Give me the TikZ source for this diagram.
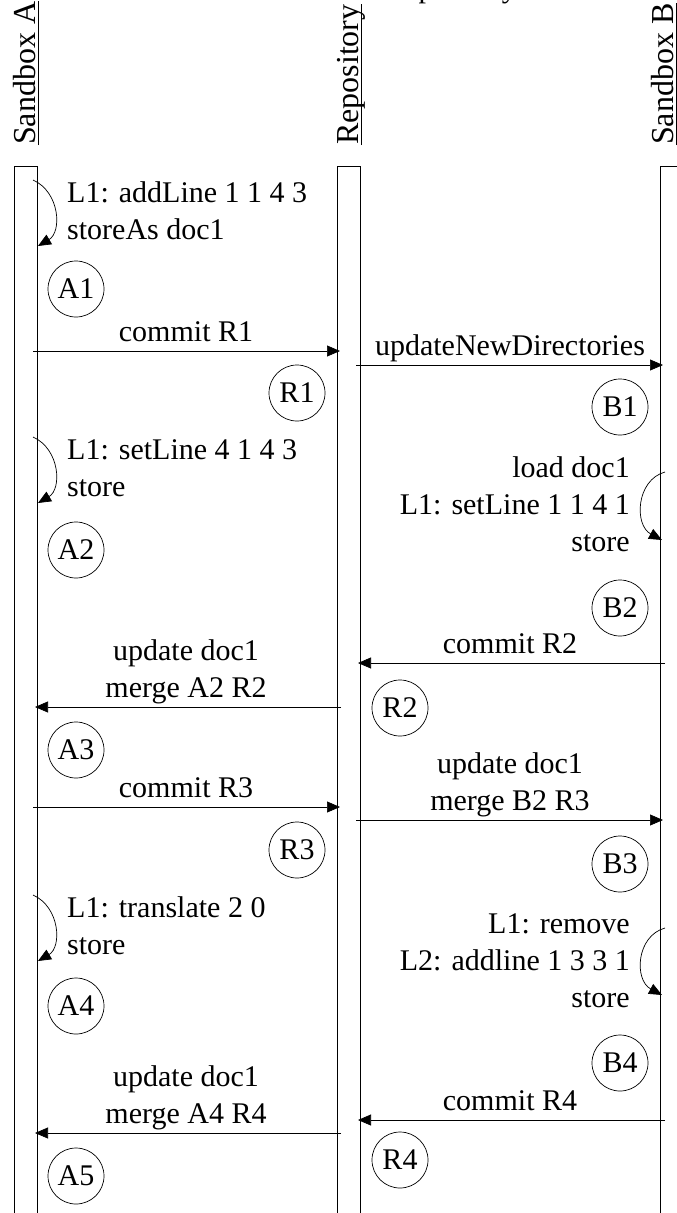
\documentclass[tikz,border=0pt]{standalone}
\usepackage{fontspec}
\setmainfont{Liberation Serif}
\usetikzlibrary{positioning,arrows.meta}

\begin{document}
\begin{tikzpicture}[
    x=1pt, y=-1pt,
    every node/.style={font=\fontsize{30}{37}\selectfont, inner sep=0pt},
    lifebox/.style={draw, line width=0.9pt},
    header/.style={rotate=90, anchor=base west, font=\fontsize{32}{38}\selectfont},
    state/.style={circle, draw, line width=0.7pt, minimum size=56pt},
    msg/.style={line width=0.7pt, -{Triangle[length=13pt,width=11pt]}},
    selfmsg/.style={msg},
    msglabel/.style={align=center, anchor=south, text depth=0pt},
    notel/.style={align=left, anchor=south west, text depth=0pt},
    noter/.style={align=right, anchor=south east, text depth=0pt}
]
\useasboundingbox (0,0) rectangle (677,1213);

% headers
\node[anchor=base west] (title) at (385,-3) {Repository};
\node[header] (hdrA) at (35,145) {Sandbox A};
\node[header] (hdrR) at (358,145) {Repository};
\node[header] (hdrB) at (673,145) {Sandbox B};
\foreach \h in {hdrA,hdrR,hdrB}
    \draw[line width=0.6pt] ([xshift=3pt]\h.base west) -- ([xshift=3pt]\h.base east);

% lifelines
\draw[lifebox] (14,1225) -- (14,166) -- (37,166) -- (37,1225);
\draw[lifebox] (337,1225) -- (337,166) -- (360,166) -- (360,1225);
\draw[lifebox] (660,1225) -- (660,166) -- (690,166) -- (690,1225);

% sandbox A, local work
\coordinate (a1s) at (33,180);
\coordinate (a1e) at (38,246);
\draw[selfmsg] (a1s) .. controls +(27,12) and +(24,-14) .. (a1e);
\node[notel] (n1) at (67,240) {L1: addLine 1 1 4 3\\storeAs doc1};
\node[state] (A1) at (76,289) {A1};

\coordinate (a2s) at (33,437);
\coordinate (a2e) at (38,503);
\draw[selfmsg] (a2s) .. controls +(27,12) and +(24,-14) .. (a2e);
\node[notel] (n2) at (67,497) {L1: setLine 4 1 4 3\\store};
\node[state] (A2) at (76,550) {A2};

\node[state] (A3) at (76,750) {A3};

\coordinate (a3s) at (33,895);
\coordinate (a3e) at (38,961);
\draw[selfmsg] (a3s) .. controls +(27,12) and +(24,-14) .. (a3e);
\node[notel] (n3) at (67,955) {L1: translate 2 0\\store};
\node[state] (A4) at (76,1006) {A4};

\node[state] (A5) at (76,1176) {A5};

% sandbox B, local work
\node[state] (B1) at (620,407) {B1};

\coordinate (b1s) at (665,472);
\coordinate (b1e) at (662,540);
\draw[selfmsg] (b1s) .. controls +(-29,8) and +(-28,-15) .. (b1e);
\node[noter] (n4) at (630,552) {load doc1\\L1: setLine 1 1 4 1\\store};
\node[state] (B2) at (620,608) {B2};

\node[state] (B3) at (620,864) {B3};

\coordinate (b2s) at (665,928);
\coordinate (b2e) at (662,995);
\draw[selfmsg] (b2s) .. controls +(-29,8) and +(-28,-15) .. (b2e);
\node[noter] (n5) at (630,1008) {L1: remove\\L2: addline 1 3 3 1\\store};
\node[state] (B4) at (620,1063) {B4};

% repository states
\node[state] (R1) at (297,393) {R1};
\node[state] (R2) at (400,708) {R2};
\node[state] (R3) at (297,850) {R3};
\node[state] (R4) at (400,1160) {R4};

% messages
\coordinate (m1s) at (33,351);   \coordinate (m1e) at (340,351);
\coordinate (m2s) at (356,365);  \coordinate (m2e) at (663,365);
\coordinate (m3s) at (665,663);  \coordinate (m3e) at (358,663);
\coordinate (m4s) at (341,707);  \coordinate (m4e) at (35,707);
\coordinate (m5s) at (33,807);   \coordinate (m5e) at (340,807);
\coordinate (m6s) at (356,820);  \coordinate (m6e) at (663,820);
\coordinate (m7s) at (665,1120); \coordinate (m7e) at (358,1120);
\coordinate (m8s) at (341,1133); \coordinate (m8e) at (35,1133);

\draw[msg] (m1s) -- (m1e);
\draw[msg] (m2s) -- (m2e);
\draw[msg] (m3s) -- (m3e);
\draw[msg] (m4s) -- (m4e);
\draw[msg] (m5s) -- (m5e);
\draw[msg] (m6s) -- (m6e);
\draw[msg] (m7s) -- (m7e);
\draw[msg] (m8s) -- (m8e);

\node[msglabel] (l1) at (186,342) {commit R1};
\node[msglabel] (l2) at (510,356) {updateNewDirectories};
\node[msglabel] (l3) at (510,654) {commit R2};
\node[msglabel] (l4) at (186,698) {update doc1\\merge A2 R2};
\node[msglabel] (l5) at (186,798) {commit R3};
\node[msglabel] (l6) at (510,811) {update doc1\\merge B2 R3};
\node[msglabel] (l7) at (510,1111) {commit R4};
\node[msglabel] (l8) at (186,1124) {update doc1\\merge A4 R4};

\end{tikzpicture}
\end{document}
